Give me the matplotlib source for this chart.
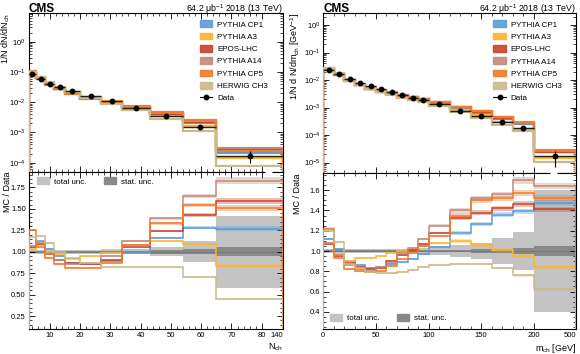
import numpy as np
import matplotlib
matplotlib.use("Agg")
import matplotlib.pyplot as plt
from matplotlib.patches import Patch
from matplotlib.lines import Line2D
from matplotlib.ticker import FixedLocator, LogLocator, NullFormatter, FormatStrFormatter

plt.rcParams['font.family'] = ['Liberation Sans', 'DejaVu Sans']
plt.rcParams['mathtext.fontset'] = 'custom'
plt.rcParams['mathtext.rm'] = 'Liberation Sans'
plt.rcParams['mathtext.it'] = 'Liberation Sans'

# ---------------- data: N_ch (left) ----------------
edges_l = [3, 5.5, 8.5, 11.5, 15, 20, 27, 34, 43, 54, 65, 140]
data_l = [0.0855, 0.0585, 0.041, 0.031, 0.0229, 0.016, 0.011, 0.0066, 0.0034, 0.00155, 0.000166]
tot_l = [0.03, 0.02, 0.02, 0.02, 0.02, 0.025, 0.03, 0.03, 0.05, 0.12, 0.42]
stat_l = [0.01, 0.005, 0.005, 0.005, 0.005, 0.01, 0.01, 0.01, 0.02, 0.03, 0.05]
mcunc_l = [0.01, 0.01, 0.01, 0.01, 0.01, 0.01, 0.01, 0.01, 0.01, 0.015, 0.02]
cp1_l = [1.05, 1.12, 1.03, 0.95, 0.87, 0.86, 0.89, 0.99, 1.16, 1.28, 1.27]
a3_l = [1.03, 1.08, 1.00, 0.97, 0.93, 0.95, 0.99, 1.08, 1.13, 1.09, 0.84]
epos_l = [1.06, 1.09, 0.97, 0.91, 0.87, 0.86, 0.91, 1.05, 1.24, 1.43, 1.59]
a14_l = [1.07, 1.10, 0.98, 0.90, 0.86, 0.87, 0.95, 1.13, 1.39, 1.65, 1.83]
cp5_l = [1.25, 1.05, 0.93, 0.86, 0.81, 0.81, 0.87, 1.08, 1.33, 1.55, 1.51]
ch3_l = [1.17, 1.18, 1.10, 1.00, 0.92, 0.87, 0.82, 0.82, 0.82, 0.71, 0.45]

# ---------------- data: m_ch (right) ----------------
edges_r = [0, 10, 20, 30, 40, 50, 60, 70, 80, 90, 100, 120, 140, 160, 180, 200, 500]
data_r = [0.0231, 0.0166, 0.011, 0.0079, 0.0059, 0.0046, 0.0036, 0.0028, 0.0023, 0.0019,
          0.0013, 0.00076, 0.00049, 0.00029, 0.00018, 1.7e-5]
tot_r = [0.02, 0.02, 0.02, 0.02, 0.02, 0.02, 0.02, 0.02, 0.02, 0.03, 0.04, 0.06, 0.08, 0.13, 0.19, 0.60]
stat_r = [0.005, 0.005, 0.005, 0.005, 0.005, 0.005, 0.005, 0.005, 0.005, 0.005, 0.01, 0.01, 0.015, 0.02, 0.03, 0.05]
mcunc_r = [0.01, 0.01, 0.01, 0.01, 0.01, 0.01, 0.01, 0.01, 0.01, 0.01, 0.01, 0.015, 0.015, 0.015, 0.02, 0.02]
cp1_r = [1.12, 1.02, 0.90, 0.86, 0.83, 0.84, 0.87, 0.89, 0.92, 0.97, 1.04, 1.18, 1.27, 1.36, 1.39, 1.47]
a3_r = [1.08, 0.97, 0.90, 0.93, 0.93, 0.95, 0.98, 1.00, 1.02, 1.05, 1.08, 1.10, 1.06, 1.01, 0.95, 0.84]
epos_r = [1.07, 0.95, 0.88, 0.84, 0.82, 0.83, 0.90, 0.96, 1.01, 1.07, 1.18, 1.33, 1.38, 1.42, 1.46, 1.41]
a14_r = [1.08, 0.96, 0.86, 0.82, 0.80, 0.84, 0.88, 0.98, 1.03, 1.12, 1.25, 1.40, 1.52, 1.56, 1.70, 1.64]
cp5_r = [1.22, 0.93, 0.82, 0.80, 0.79, 0.80, 0.85, 0.92, 0.98, 1.05, 1.15, 1.35, 1.50, 1.52, 1.57, 1.52]
ch3_r = [1.20, 1.09, 0.87, 0.83, 0.79, 0.78, 0.78, 0.79, 0.81, 0.84, 0.86, 0.87, 0.87, 0.83, 0.76, 0.62]

names = ["PYTHIA CP1", "PYTHIA A3", "EPOS-LHC", "PYTHIA A14", "PYTHIA CP5", "HERWIG CH3"]
colors = ["#5b9bd8", "#fdb42f", "#c8432c", "#c08a7b", "#ef7b2c", "#c9ba8a"]

# broken x axes (compressed last bin)
def fwd_l(x):
    x = np.asarray(x, dtype=float)
    return np.where(x <= 80, x, 80 + (x - 80) * 7.0 / 60.0)

def inv_l(y):
    y = np.asarray(y, dtype=float)
    return np.where(y <= 80, y, 80 + (y - 80) * 60.0 / 7.0)

def fwd_r(x):
    x = np.asarray(x, dtype=float)
    return np.where(x <= 200, x, 200 + (x - 200) * 40.0 / 300.0)

def inv_r(y):
    y = np.asarray(y, dtype=float)
    return np.where(y <= 200, y, 200 + (y - 200) * 300.0 / 40.0)

W, H = 580, 354
fig = plt.figure(figsize=(W / 100, H / 100), dpi=100)

def box(x0, y0, x1, y1):
    return [x0 / W, 1 - y1 / H, (x1 - x0) / W, (y1 - y0) / H]

axes = {
    'l': (fig.add_axes(box(28.5, 13.3, 283, 172)), fig.add_axes(box(28.5, 172, 283, 329))),
    'r': (fig.add_axes(box(323.3, 13.3, 576, 173)), fig.add_axes(box(323.3, 173, 576, 329))),
}

def style(ax):
    ax.tick_params(which='both', direction='in', top=True, right=True, labelsize=5.5, pad=2)
    ax.tick_params(which='major', length=4.5, width=0.6)
    ax.tick_params(which='minor', length=2.3, width=0.5)
    for s in ax.spines.values():
        s.set_linewidth(0.8)

panels = [
    ('l', edges_l, data_l, tot_l, stat_l, mcunc_l, [cp1_l, a3_l, epos_l, a14_l, cp5_l, ch3_l],
     (fwd_l, inv_l), (3, 140), (10 ** -4.31, 10 ** 0.94), (0.10, 1.93)),
    ('r', edges_r, data_r, tot_r, stat_r, mcunc_r, [cp1_r, a3_r, epos_r, a14_r, cp5_r, ch3_r],
     (fwd_r, inv_r), (0, 500), (10 ** -5.38, 10 ** 0.425), (0.23, 1.77)),
]

for key, edges, data, tot, stat, mcunc, ratios, funcs, xlim, ylim_top, ylim_rat in panels:
    ax, rx = axes[key]
    fwd, inv = funcs
    edges = np.array(edges, dtype=float)
    data = np.array(data)
    tot = np.array(tot)
    stat = np.array(stat)
    mcunc = np.array(mcunc)
    # bin centres as they appear on the (broken) axis
    centers = inv(0.5 * (fwd(edges[:-1]) + fwd(edges[1:])))

    for a in (ax, rx):
        a.set_xscale('function', functions=funcs)
        a.set_xlim(*xlim)
        style(a)

    # ---- top panel ----
    ax.set_yscale('log')
    ax.set_ylim(*ylim_top)
    for r, c in zip(ratios, colors):
        mc = data * np.array(r)
        ax.stairs(mc * (1 + 2 * mcunc), edges, baseline=mc * (1 - 2 * mcunc), fill=True,
                  color=c, alpha=0.45, lw=0, zorder=2)
        ax.stairs(mc, edges, color=c, lw=1.6, zorder=3)
    ax.errorbar(centers, data, yerr=data * tot, fmt='none', ecolor='black', elinewidth=0.8, zorder=5)
    ax.hlines(data, edges[:-1], edges[1:], color='#202020', lw=1.0, zorder=5)
    ax.plot(centers, data, 'o', color='black', ms=3.2, zorder=6)
    ax.yaxis.set_major_locator(LogLocator(base=10, numticks=10))
    ax.yaxis.set_minor_locator(LogLocator(base=10, subs=np.arange(2, 10), numticks=20))
    ax.yaxis.set_minor_formatter(NullFormatter())
    ax.tick_params(axis='x', labelbottom=False)

    handles = [Patch(facecolor=c, edgecolor=c, alpha=0.9) for c in colors]
    handles.append(Line2D([], [], color='black', marker='o', ms=3.2, lw=0.8))
    ax.legend(handles, names + ["Data"], loc='upper left', bbox_to_anchor=(0.672, 0.955),
              frameon=False, fontsize=5.8, handlelength=1.6, handleheight=0.9,
              handletextpad=0.6, labelspacing=0.52, borderpad=0, borderaxespad=0)

    # ---- ratio panel ----
    rx.set_ylim(*ylim_rat)
    rx.stairs(1 + tot, edges, baseline=1 - tot, fill=True, color='#c3c3c3', lw=0, zorder=1)
    rx.stairs(1 + stat, edges, baseline=1 - stat, fill=True, color='#888888', lw=0, zorder=1)
    rx.stairs(np.ones(len(data)), edges, color='#777777', lw=0.6, zorder=1)
    for r, c in zip(ratios, colors):
        r = np.array(r)
        rx.stairs(r * (1 + mcunc), edges, baseline=r * (1 - mcunc), fill=True,
                  color=c, alpha=0.35, lw=0, zorder=2)
        rx.stairs(r, edges, color=c, lw=1.1, zorder=3)
    rx.set_ylabel('MC / Data', fontsize=6.5, loc='top')

    # break marks on the shared border
    gap = (0.929, 0.957) if key == 'l' else (0.897, 0.925)
    for a, yy in ((ax, 0), (rx, 1)):
        a.plot(gap, (yy, yy), transform=a.transAxes, color='white', lw=2.2,
               clip_on=False, zorder=10, solid_capstyle='butt')

    ax.text(0.0, 1.008, 'CMS', transform=ax.transAxes, fontsize=8.5, fontweight='bold',
            ha='left', va='baseline')
    ax.text(1.0, 1.008, r'64.2 $\mu$b$^{-1}$ 2018 (13 TeV)', transform=ax.transAxes,
            fontsize=6.3, ha='right', va='baseline')

# left specifics
ax, rx = axes['l']
ax.set_ylabel(r'1/N dN/dN$_{\rm ch}$', fontsize=6.5, loc='top')
ax.yaxis.set_label_coords(-0.066, 1.0)
rx.yaxis.set_label_coords(-0.066, 1.0)
for a in (ax, rx):
    a.xaxis.set_major_locator(FixedLocator([10, 20, 30, 40, 50, 60, 70, 80, 140]))
    a.xaxis.set_minor_locator(FixedLocator(list(range(4, 81, 2))))
rx.set_xticklabels(['10', '20', '30', '40', '50', '60', '70', '80', '140'])
rx.get_xticklabels()[-1].set_horizontalalignment('right')
rx.yaxis.set_major_locator(FixedLocator([0.25, 0.5, 0.75, 1.0, 1.25, 1.5, 1.75]))
rx.yaxis.set_minor_locator(FixedLocator(list(np.arange(0.1, 1.95, 0.05))))
rx.yaxis.set_major_formatter(FormatStrFormatter('%.2f'))
rx.set_xlabel(r'N$_{\rm ch}$', fontsize=6.5, loc='right', labelpad=2)
rx.legend([Patch(color='#c3c3c3'), Patch(color='#888888')], ['total unc.', 'stat. unc.'],
          loc='upper left', bbox_to_anchor=(0.032, 0.965), ncol=2, frameon=False, fontsize=5.8,
          handlelength=1.5, handleheight=0.9, handletextpad=0.6, columnspacing=2.2,
          borderpad=0, borderaxespad=0)

# right specifics
ax, rx = axes['r']
ax.set_ylabel(r'1/N d N/dm$_{\rm ch}$ [GeV$^{-1}$]', fontsize=6.5, loc='top')
ax.yaxis.set_label_coords(-0.084, 1.0)
rx.yaxis.set_label_coords(-0.084, 1.0)
for a in (ax, rx):
    a.xaxis.set_major_locator(FixedLocator([0, 50, 100, 150, 200, 500]))
    a.xaxis.set_minor_locator(FixedLocator(list(range(10, 200, 10))))
rx.set_xticklabels(['0', '50', '100', '150', '200', '500'])
rx.get_xticklabels()[-1].set_horizontalalignment('right')
rx.yaxis.set_major_locator(FixedLocator([0.4, 0.6, 0.8, 1.0, 1.2, 1.4, 1.6]))
rx.yaxis.set_minor_locator(FixedLocator(list(np.arange(0.25, 1.76, 0.05))))
rx.yaxis.set_major_formatter(FormatStrFormatter('%.1f'))
rx.set_xlabel(r'm$_{\rm ch}$ [GeV]', fontsize=6.5, loc='right', labelpad=2)
rx.legend([Patch(color='#c3c3c3'), Patch(color='#888888')], ['total unc.', 'stat. unc.'],
          loc='lower left', bbox_to_anchor=(0.027, 0.045), ncol=2, frameon=False, fontsize=5.8,
          handlelength=1.5, handleheight=0.9, handletextpad=0.6, columnspacing=2.2,
          borderpad=0, borderaxespad=0)

fig.savefig('out.png', dpi=100)
